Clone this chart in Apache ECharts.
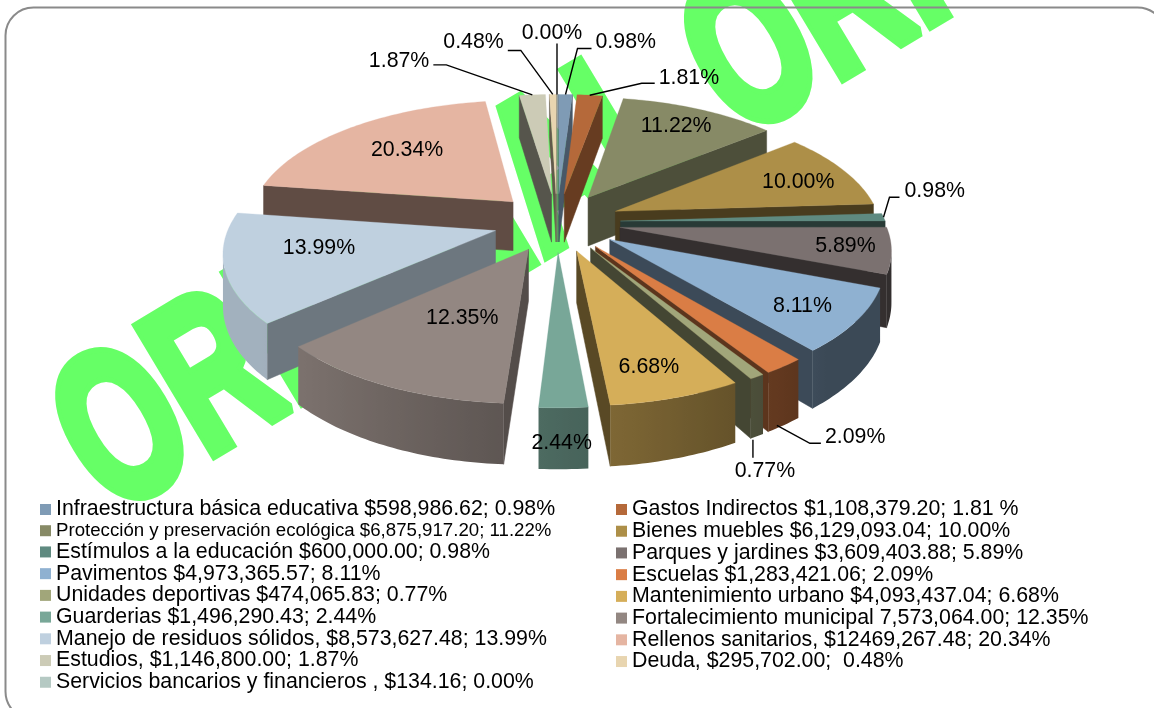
<!DOCTYPE html>
<html><head><meta charset="utf-8">
<style>html,body{margin:0;padding:0;background:#fff}#c{width:1154px;height:708px}</style>
<script src="https://cdn.jsdelivr.net/npm/echarts@6/dist/echarts.min.js"></script>
</head><body><div id="c"></div>
<script>
const legendTexts = [
 "Infraestructura básica educativa $598,986.62; 0.98%",
 "Gastos Indirectos $1,108,379.20; 1.81 %",
 "Protección y preservación ecológica $6,875,917.20; 11.22%",
 "Bienes muebles $6,129,093.04; 10.00%",
 "Estímulos a la educación $600,000.00; 0.98%",
 "Parques y jardines $3,609,403.88; 5.89%",
 "Pavimentos $4,973,365.57; 8.11%",
 "Escuelas $1,283,421.06; 2.09%",
 "Unidades deportivas $474,065.83; 0.77%",
 "Mantenimiento urbano $4,093,437.04; 6.68%",
 "Guarderias $1,496,290.43; 2.44%",
 "Fortalecimiento municipal 7,573,064.00; 12.35%",
 "Manejo de residuos sólidos, $8,573,627.48; 13.99%",
 "Rellenos sanitarios, $12469,267.48; 20.34%",
 "Estudios, $1,146,800.00; 1.87%",
 "Deuda, $295,702.00;  0.48%",
 "Servicios bancarios y financieros , $134.16; 0.00%"
];
const amounts = [598986.62,1108379.20,6875917.20,6129093.04,600000.00,3609403.88,4973365.57,1283421.06,474065.83,4093437.04,1496290.43,7573064.00,8573627.48,12469267.48,1146800.00,295702.00,134.16];
const percentLabels = ["0.98%","1.81%","11.22%","10.00%","0.98%","5.89%","8.11%","2.09%","0.77%","6.68%","2.44%","12.35%","13.99%","20.34%","1.87%","0.48%","0.00%"];
const sliceColors = ["#7f9bb5","#b5693a","#878a66","#ad8f48","#5f8a80","#7b7170","#8fb1d1","#da7d45","#a1a67a","#d5ae59","#78a798","#938782","#bfd0df","#e5b5a2","#cccbb6","#e8d5b0","#b5c9c3"];

// Projection of the tilted pie (layout, not data)
const view = {cx:557, cy:222, rx:265, ry:122, persp:0.15, explode:0.24, depth:50};
// Label placement: [radial fraction, dx, dy] for inside labels; offsets from the outer arc for callouts
const insideFrac = {2:[.62,16,-14],3:[.7,21,0],5:[.7,37,3],6:[.72,20,9],9:[.72,4,15],10:[1.18,-3,1],11:[.7,29,-22],12:[.72,16,-9],13:[.62,-2,-4]};
const callouts = {
 0:{pts:[[0,0],[12,-46],[26,-46]],label:[30,-52,'left']},
 1:{pts:[[0,0],[52,-12],[65,-12]],label:[69,-17,'left']},
 4:{pts:[[0,0],[6,-20],[16,-20]],label:[21,-26,'left']},
 7:{pts:[[-7,59],[26,77],[37,77]],label:[41,71,'left']},
 8:{pts:[[-4,63],[-4,81]],label:[8,94,'center']},
 14:{pts:[[0,0],[-86,-30],[-99,-30]],label:[-103,-34,'right']},
 15:{pts:[[0,0],[-32,-44],[-45,-44]],label:[-49,-52,'right']},
 16:{pts:[[0,0],[0,-51]],label:[-5,-61,'center']}
};

const total = amounts.reduce((a,b)=>a+b,0);
const cum = []; amounts.reduce((s,v,i)=>{cum[i]=s; return s+v;},0);
const TAU = Math.PI*2;
function project(X,Y){const s=1/(1-view.persp*Y);return [view.cx+view.rx*X*s, view.cy+view.ry*Y*s, s];}
function geom(i,v){
  const a0=cum[i]/total*TAU, a1=(cum[i]+v)/total*TAU, m=(a0+a1)/2;
  const ox=view.explode*Math.sin(m), oy=-view.explode*Math.cos(m);
  return {a0,a1,m,ox,oy};
}
function shade(hex,f){
  const n=parseInt(hex.slice(1),16);
  return 'rgb('+[n>>16,(n>>8)&255,n&255].map(c=>Math.round(c*f)).join(',')+')';
}
function arcShade(a){return Math.min(0.85,Math.max(0.41,0.62-0.3*Math.sin(a)));}
function sliceRender(i){
  return function(params,api){
    const v=api.value(0), g=geom(i,v), col=sliceColors[i];
    const steps=Math.max(1,Math.ceil((g.a1-g.a0)/(Math.PI/180)));
    const arc=[], ang=[];
    for(let k=0;k<=steps;k++){const a=g.a0+(g.a1-g.a0)*k/steps;
      arc.push(project(g.ox+Math.sin(a),g.oy-Math.cos(a))); ang.push(a);}
    const apex=project(g.ox,g.oy);
    const kids=[];
    const wall=(p,q)=>[[p[0],p[1]],[q[0],q[1]],[q[0],q[1]+view.depth*q[2]],[p[0],p[1]+view.depth*p[2]]];
    const radial=(p,q)=>{
      const dx=q[0]-p[0],dy=q[1]-p[1];
      if(dx>=0) return;
      const f=(dy/(Math.hypot(dx,dy)||1))>0.2?0.57:0.42, c=shade(col,f);
      kids.push({type:'polygon',shape:{points:wall(p,q)},style:{fill:c,stroke:c,lineWidth:0.5},silent:true,z2:1});
    };
    radial(apex,arc[0]);
    radial(arc[arc.length-1],apex);
    // facing part of the outer wall: one polygon with a smooth horizontal gradient
    const run=[],runAng=[];
    arc.forEach((p,k)=>{
      const facing=(k<steps&&arc[k+1][0]<p[0])||(k>0&&p[0]<arc[k-1][0]);
      if(facing){run.push(p);runAng.push(ang[k]);}
    });
    if(run.length>1){
      const top=run.map(p=>[p[0],p[1]]), bot=run.map(p=>[p[0],p[1]+view.depth*p[2]]).reverse();
      const x0=run[0][0], x1=run[run.length-1][0];
      const stops=run.map((p,k)=>({offset:Math.min(1,Math.max(0,(p[0]-x0)/(x1-x0))),color:shade(col,arcShade(runAng[k]))}));
      const grad=new echarts.graphic.LinearGradient(x0,0,x1,0,stops,true);
      kids.push({type:'polygon',shape:{points:top.concat(bot)},style:{fill:grad},silent:true,z2:2});
    }
    const poly=[apex].concat(arc).map(p=>[p[0],p[1]]);
    kids.push({type:'polygon',shape:{points:poly},style:{fill:col,stroke:col,lineWidth:0.3},silent:true,z2:5});
    return {type:'group',children:kids};
  };
}
function labelRender(params,api){
  const i=params.dataIndex, v=amounts[i], g=geom(i,v), kids=[];
  const font='21.33px "Liberation Sans", Arial, sans-serif';
  if(callouts[i]){
    const c=callouts[i];
    const P=project(g.ox+Math.sin(g.m),g.oy-Math.cos(g.m));
    const pts=c.pts.map(d=>[P[0]+d[0],P[1]+d[1]]);
    kids.push({type:'polyline',shape:{points:pts},style:{fill:null,stroke:'#000',lineWidth:1.4},silent:true});
    kids.push({type:'text',style:{text:percentLabels[i],x:P[0]+c.label[0],y:P[1]+c.label[1],align:c.label[2],verticalAlign:'middle',font,fill:'#000'},silent:true});
  } else {
    const f=insideFrac[i];
    const P=project(g.ox+f[0]*Math.sin(g.m),g.oy-f[0]*Math.cos(g.m));
    kids.push({type:'text',style:{text:percentLabels[i],x:P[0]+f[1],y:P[1]+f[2],align:'center',verticalAlign:'middle',font,fill:'#000'},silent:true});
  }
  return {type:'group',children:kids};
}
const order=amounts.map((v,i)=>i).sort((a,b)=>geom(a,amounts[a]).oy-geom(b,amounts[b]).oy);
const series=order.map((i,rank)=>({
  type:'custom',name:legendTexts[i],coordinateSystem:'none',z:3+rank,
  itemStyle:{color:sliceColors[i]},color:sliceColors[i],
  data:[[amounts[i]]],renderItem:sliceRender(i),silent:true
}));
series.push({type:'custom',name:'etiquetas',coordinateSystem:'none',z:60,data:amounts.map(v=>[v]),renderItem:labelRender,silent:true});

function legendData(rem){
  return legendTexts.map((t,i)=>({t,i})).filter(o=>o.i%2===rem).map(o=>({
    name:o.t,itemStyle:{color:sliceColors[o.i]},
    textStyle:o.i===2?{fontSize:18.67,lineHeight:20,height:20}:undefined
  }));
}
const legendBase={orient:'vertical',selectedMode:false,itemWidth:11,itemHeight:11,itemGap:0.72,icon:'rect',padding:0,
  textStyle:{fontFamily:'"Liberation Sans", Arial, sans-serif',fontSize:21.33,lineHeight:20,height:20,color:'#000'}};

const chart=echarts.init(document.getElementById('c'),null,{renderer:'canvas'});
chart.setOption({
  animation:false,backgroundColor:'#fff',
  legend:[
    Object.assign({},legendBase,{left:40,top:499,data:legendData(0)}),
    Object.assign({},legendBase,{left:616,top:499,data:legendData(1)})
  ],
  graphic:{elements:[
    {type:'rect',z:0,silent:true,shape:{x:5.5,y:7.5,width:1160,height:712,r:28},style:{fill:'#fff',stroke:null}},
    {type:'text',z:1,silent:true,x:80,y:465,rotation:0.54,scaleX:0.66,scaleY:1,
      style:{text:'ORIGINAL ORIGINAL',font:'bold 215px "Liberation Sans", Arial, sans-serif',fill:'#66ff66',stroke:'#66ff66',lineWidth:12,align:'left',verticalAlign:'middle'}},
    {type:'rect',z:2,silent:true,shape:{x:5.5,y:7.5,width:1160,height:712,r:28},style:{fill:null,stroke:'#8a8a8a',lineWidth:2}}
  ]},
  series
});
</script></body></html>
